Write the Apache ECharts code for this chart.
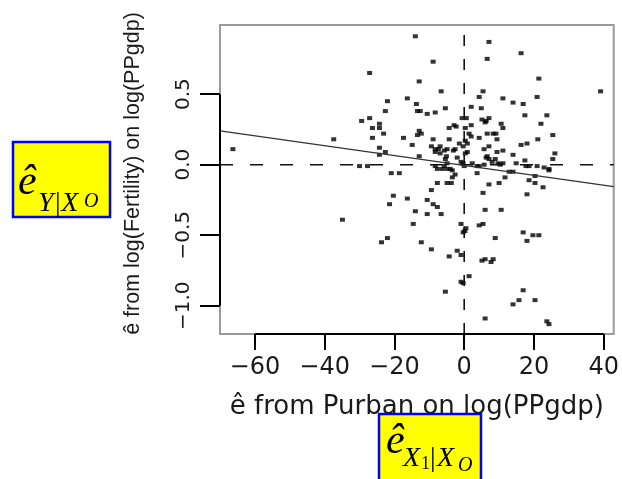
<!DOCTYPE html>
<html><head><meta charset="utf-8">
<script src="https://cdn.jsdelivr.net/npm/echarts@6/dist/echarts.min.js"></script>
<style>html,body{margin:0;padding:0;background:#fff}#c{width:622px;height:479px}</style>
</head><body><div id="c"></div>
<script>
// Residual values
const xValues = [
-66.3,-37.4,-34.9,-14.0,7.1,16.3,-8.9,6.6,-27.1,21.4,
-12.9,39.1,-6.6,5.4,-22.0,-16.3,4.3,11.1,20.9,14.0,
16.9,-13.7,2.0,-5.4,4.9,-22.6,-13.4,-12.6,-10.6,-8.3,
17.4,23.7,-29.4,-27.1,-0.6,0.6,5.1,6.3,7.1,-2.9,
-2.3,2.0,0.3,6.0,10.6,11.1,22.0,-26.3,-24.3,-24.3,
-4.3,-12.9,-12.3,-13.4,8.3,9.1,6.6,-23.1,1.4,2.0,
25.4,-26.3,-17.4,-8.9,-4.3,4.3,21.1,9.4,-1.4,-0.3,
0.9,0.3,16.3,18.0,-14.9,-9.4,-6.9,7.1,-24.3,-8.3,
-7.4,-5.7,-4.9,-3.1,-2.6,5.7,9.4,11.1,0.3,0.9,
-22.6,-24.3,-12.9,-8.3,-6.9,-5.1,-2.0,6.3,6.6,14.0,
26.0,25.4,-5.4,8.9,17.4,-0.9,-0.3,0.0,-4.9,2.3,
9.7,10.3,11.1,8.0,7.1,14.9,17.7,18.6,20.9,22.9,
24.3,-30.0,-27.7,-8.3,-7.7,-6.3,-5.7,-4.9,-4.0,-3.4,
4.3,5.7,3.7,-20.9,-18.6,-2.6,-3.4,3.7,11.7,12.9,
14.0,20.3,18.6,20.3,22.6,18.0,24.3,-4.9,-3.7,-7.7,
-9.4,7.1,10.0,5.4,-20.3,-21.4,-16.3,-10.6,-8.9,-7.7,
-14.0,-10.6,-6.6,6.0,10.6,-14.6,-0.9,0.5,0.2,-0.3,
4.3,5.4,16.9,19.7,21.4,18.0,8.9,-23.7,-22.0,-12.3,
-9.4,-4.3,-2.0,-0.9,5.1,6.0,7.7,8.3,1.4,-0.9,
-0.3,-5.4,16.9,14.0,15.7,20.3,6.0,23.7,24.3
];
const yValues = [
0.11,0.18,-0.39,0.91,0.87,0.79,0.73,0.75,0.65,0.61,
0.59,0.52,0.52,0.52,0.45,0.47,0.48,0.47,0.48,0.44,
0.43,0.43,0.41,0.40,0.40,0.38,0.38,0.38,0.36,0.37,
0.35,0.35,0.31,0.33,0.33,0.33,0.32,0.31,0.33,0.28,
0.27,0.28,0.26,0.30,0.29,0.26,0.29,0.26,0.29,0.26,
0.26,0.24,0.22,0.21,0.22,0.22,0.22,0.22,0.22,0.20,
0.21,0.19,0.19,0.18,0.18,0.19,0.18,0.18,0.15,0.13,
0.15,0.17,0.14,0.15,0.14,0.13,0.13,0.13,0.12,0.11,
0.11,0.10,0.11,0.10,0.11,0.11,0.09,0.10,0.08,0.09,
0.09,0.07,0.06,0.09,0.08,0.06,0.05,0.05,0.06,0.07,
0.08,0.04,0.04,0.04,0.03,0.02,0.01,-0.01,0.01,0.01,
0.01,0.00,0.01,0.02,0.04,0.01,-0.01,-0.01,-0.01,-0.02,
-0.03,-0.01,-0.01,-0.01,-0.03,-0.03,-0.01,-0.03,-0.03,-0.04,
-0.01,0.00,-0.01,-0.06,-0.06,-0.07,-0.09,-0.06,-0.09,-0.05,
-0.05,-0.08,-0.11,-0.13,-0.16,-0.21,-0.04,-0.13,-0.13,-0.13,
-0.18,-0.14,-0.13,-0.20,-0.22,-0.28,-0.24,-0.25,-0.28,-0.30,
-0.33,-0.35,-0.35,-0.32,-0.32,-0.42,-0.42,-0.45,-0.47,-0.48,
-0.43,-0.42,-0.48,-0.50,-0.50,-0.54,-0.52,-0.55,-0.52,-0.55,
-0.60,-0.65,-0.61,-0.64,-0.68,-0.67,-0.69,-0.67,-0.79,-0.83,
-0.84,-0.90,-0.89,-0.99,-0.96,-0.96,-1.09,-1.11,-1.13
];
const xTicks = [-60, -40, -20, 0, 20, 40];
const yTicks = [-1.0, -0.5, 0.0, 0.5];
const xRange = [-70, 42.86];
const yRange = [-1.2, 0.99];
// fitted OLS line endpoints read at the plot edges
const fitX = [-70, 42.86];
const fitY = [0.24, -0.155];
const xTitle = 'ê from Purban on log(PPgdp)';
const yTitle = 'ê from log(Fertility) on log(PPgdp)';

const fmtX = v => (v < 0 ? '\u2212' : '') + Math.abs(v);
const fmtY = v => (v < 0 ? '\u2212' : '') + Math.abs(v).toFixed(1);

const chart = echarts.init(document.getElementById('c'), null, {renderer: 'canvas'});
const txt = '#1a1a1a';
const serif = '"Liberation Serif","Times New Roman",serif';

chart.setOption({
  animation: false,
  backgroundColor: '#fff',
  grid: {left: 220, right: 7, top: 25, bottom: 145, show: true, borderColor: '#9a9a9a', borderWidth: 2, backgroundColor: 'transparent'},
  xAxis: {
    type: 'value', min: xRange[0], max: xRange[1],
    axisLine: {show: false, onZero: false}, splitLine: {show: false},
    axisTick: {show: true, length: 16, customValues: xTicks, lineStyle: {color: '#000', width: 2}},
    axisLabel: {customValues: xTicks, formatter: fmtX, fontSize: 24, fontFamily: '"DejaVu Sans"', color: txt, margin: 22},
    name: xTitle, nameLocation: 'middle', nameGap: 60,
    nameTextStyle: {fontSize: 26, fontFamily: '"DejaVu Sans"', color: txt}
  },
  yAxis: {
    type: 'value', min: yRange[0], max: yRange[1],
    axisLine: {show: false, onZero: false}, splitLine: {show: false},
    axisTick: {show: true, length: 20, customValues: yTicks, lineStyle: {color: '#000', width: 2}},
    axisLabel: {customValues: yTicks, formatter: fmtY, rotate: 90, fontSize: 20, fontFamily: '"DejaVu Sans"', color: txt, margin: 26},
    name: yTitle, nameLocation: 'middle', nameGap: 76, nameRotate: 90,
    nameTextStyle: {fontSize: 21.5, fontFamily: '"Liberation Sans"', color: txt, padding: [0, 0, 0, 12]}
  },
  series: [
    {type: 'line', data: [[xRange[0], 0], [xRange[1], 0]], symbol: 'none', silent: true,
     lineStyle: {color: '#111', width: 1.6, type: [13, 17]}},
    {type: 'line', data: [[0, yRange[0]], [0, yRange[1]]], symbol: 'none', silent: true,
     lineStyle: {color: '#111', width: 1.6, type: [11, 13]}},
    {type: 'line', data: fitX.map((x, i) => [x, fitY[i]]), symbol: 'none', silent: true,
     lineStyle: {color: '#333', width: 1.3}},
    {type: 'line', data: [[xRange[0], yTicks[0]], [xRange[0], yTicks[yTicks.length - 1]]], symbol: 'none', clip: false, silent: true,
     lineStyle: {color: '#000', width: 2}},
    {type: 'line', data: [[xTicks[0], yRange[0]], [xTicks[xTicks.length - 1], yRange[0]]], symbol: 'none', clip: false, silent: true,
     lineStyle: {color: '#000', width: 2}},
    {type: 'scatter', data: xValues.map((x, i) => [x, yValues[i]]), symbol: 'rect', symbolSize: [5, 4],
     itemStyle: {color: '#000'}}
  ],
  graphic: [
    {type: 'rect', shape: {x: 13, y: 142, width: 97, height: 75}, style: {fill: '#ffff00', stroke: '#0000ff', lineWidth: 2.5}},
    {type: 'text', x: 18, y: 162, style: {text: 'ê', font: 'italic 42px ' + serif, fill: '#000'}},
    {type: 'text', x: 38, y: 190, style: {text: 'Y|X', font: 'italic 28px ' + serif, fill: '#000'}},
    {type: 'text', x: 84, y: 192, style: {text: 'O', font: 'italic 20px ' + serif, fill: '#000'}},
    {type: 'rect', shape: {x: 379, y: 414, width: 102, height: 80}, style: {fill: '#ffff00', stroke: '#0000ff', lineWidth: 2.5}},
    {type: 'text', x: 386, y: 421, style: {text: 'ê', font: 'italic 42px ' + serif, fill: '#000'}},
    {type: 'text', x: 403, y: 445, style: {text: 'X', font: 'italic 28px ' + serif, fill: '#000'}},
    {type: 'text', x: 421, y: 455, style: {text: '1', font: '18px ' + serif, fill: '#000'}},
    {type: 'text', x: 430, y: 445, style: {text: '|', font: '28px ' + serif, fill: '#000'}},
    {type: 'text', x: 437, y: 445, style: {text: 'X', font: 'italic 28px ' + serif, fill: '#000'}},
    {type: 'text', x: 458, y: 456, style: {text: 'O', font: 'italic 20px ' + serif, fill: '#000'}}
  ]
});
</script></body></html>
